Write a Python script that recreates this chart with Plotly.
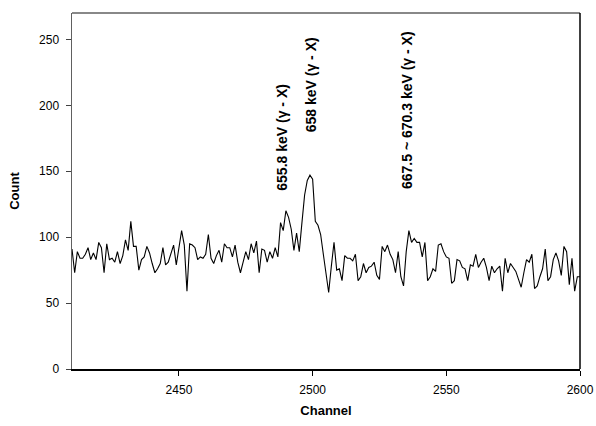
import plotly.graph_objects as go

channel_start = 2410
counts = [
    91, 73, 89, 84, 84, 87, 92, 83, 88, 83,
    96, 92, 73, 95, 83, 84, 81, 89, 80, 86,
    98, 90, 112, 93, 93, 75, 83, 85, 93, 88,
    80, 73, 76, 80, 92, 79, 81, 88, 94, 79,
    92, 105, 94, 59, 95, 94, 92, 83, 85, 84,
    87, 102, 84, 80, 86, 90, 81, 95, 92, 92,
    85, 94, 81, 73, 81, 89, 83, 95, 88, 97,
    73, 91, 90, 81, 89, 84, 92, 85, 111, 105,
    120, 115, 106, 90, 103, 89, 111, 132, 143, 147,
    144, 112, 109, 102, 87, 73, 58, 78, 96, 75,
    76, 67, 86, 84, 84, 82, 87, 67, 70, 80,
    73, 77, 78, 81, 71, 68, 93, 89, 94, 87,
    83, 73, 89, 70, 63, 89, 105, 96, 99, 96,
    96, 85, 96, 67, 70, 76, 74, 94, 95, 89,
    85, 84, 65, 67, 83, 82, 77, 76, 67, 79,
    78, 87, 77, 81, 84, 77, 67, 78, 73, 76,
    78, 59, 84, 73, 80, 77, 74, 68, 62, 73,
    83, 81, 87, 61, 63, 70, 76, 91, 67, 70,
    83, 88, 82, 71, 93, 89, 64, 84, 59, 70,
    70,
]
channels = [channel_start + i for i in range(len(counts))]

x_ticks = [2450, 2500, 2550, 2600]
y_ticks = [0, 50, 100, 150, 200, 250]

label_texts = ["655.8 keV (γ - X)", "658 keV (γ - X)", "667.5 ~ 670.3 keV (γ - X)"]
label_x = [2488.5, 2499.2, 2535.3]
label_y = [134, 178, 135]

FONT = "Arial, Liberation Sans, sans-serif"

fig = go.Figure()
fig.add_trace(go.Scatter(
    x=channels, y=counts, mode="lines",
    line=dict(color="black", width=1.1),
    showlegend=False, hoverinfo="skip",
))

for t, x, y in zip(label_texts, label_x, label_y):
    fig.add_annotation(
        x=x, y=y, xref="x", yref="y", text="<b>" + t + "</b>",
        textangle=-90, showarrow=False, xanchor="center", yanchor="bottom",
        font=dict(family=FONT, size=14, color="black"),
    )

# frame: top (gray) and right (black)
fig.add_shape(type="line", xref="paper", yref="paper", x0=0, x1=1, y0=1, y1=1,
              line=dict(color="#606060", width=1.5))
fig.add_shape(type="line", xref="paper", yref="paper", x0=1, x1=1, y0=0, y1=1,
              line=dict(color="black", width=1.5))

fig.update_layout(
    width=596, height=426,
    margin=dict(l=72, r=16, t=13, b=57),
    paper_bgcolor="white", plot_bgcolor="white",
    font=dict(family=FONT, size=12, color="black"),
    xaxis=dict(
        range=[2410, 2600], tickvals=x_ticks, ticktext=[str(v) for v in x_ticks],
        showgrid=False, zeroline=False, showline=True, linecolor="black", linewidth=1.5,
        ticks="outside", ticklen=5, tickcolor="black", tickwidth=1,
        ticklabelstandoff=4,
        tickfont=dict(family=FONT, size=12, color="black"),
        title=dict(text="<b>Channel</b>", font=dict(family=FONT, size=13, color="black"), standoff=10),
        automargin=False,
    ),
    yaxis=dict(
        range=[0, 270], tickvals=y_ticks, ticktext=[str(v) for v in y_ticks],
        showgrid=False, zeroline=False, showline=True, linecolor="#606060", linewidth=1.5,
        ticks="outside", ticklen=5, tickcolor="#404040", tickwidth=1,
        ticklabelstandoff=4,
        tickfont=dict(family=FONT, size=12, color="black"),
        title=dict(text="<b>Count</b>", font=dict(family=FONT, size=13, color="black"), standoff=16),
        automargin=False,
    ),
)

fig.write_html(
    "out.html",
    config={"displayModeBar": False, "staticPlot": True},
    post_script="document.body.style.margin='0';document.body.style.overflow='hidden';",
)
